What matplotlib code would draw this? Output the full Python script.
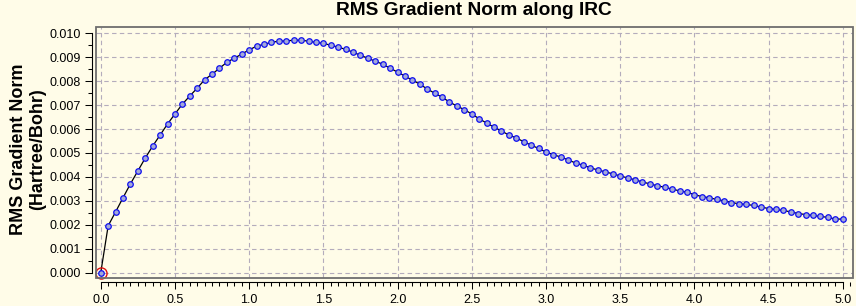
import matplotlib
matplotlib.use("Agg")
import matplotlib.pyplot as plt
from matplotlib.patches import Rectangle
from matplotlib.ticker import MultipleLocator, FormatStrFormatter

plt.rcParams['font.family'] = ['Liberation Sans', 'DejaVu Sans']

title = "RMS Gradient Norm along IRC"
ylabel = "RMS Gradient Norm\n(Hartree/Bohr)"

irc_coord = [0.00, 0.05, 0.10, 0.15, 0.20, 0.25, 0.30, 0.35, 0.40, 0.45,
             0.50, 0.55, 0.60, 0.65, 0.70, 0.75, 0.80, 0.85, 0.90, 0.95,
             1.00, 1.05, 1.10, 1.15, 1.20, 1.25, 1.30, 1.35, 1.40, 1.45,
             1.50, 1.55, 1.60, 1.65, 1.70, 1.75, 1.80, 1.85, 1.90, 1.95,
             2.00, 2.05, 2.10, 2.15, 2.20, 2.25, 2.30, 2.35, 2.40, 2.45,
             2.50, 2.55, 2.60, 2.65, 2.70, 2.75, 2.80, 2.85, 2.90, 2.95,
             3.00, 3.05, 3.10, 3.15, 3.20, 3.25, 3.30, 3.35, 3.40, 3.45,
             3.50, 3.55, 3.60, 3.65, 3.70, 3.75, 3.80, 3.85, 3.90, 3.95,
             4.00, 4.05, 4.10, 4.15, 4.20, 4.25, 4.30, 4.35, 4.40, 4.45,
             4.50, 4.55, 4.60, 4.65, 4.70, 4.75, 4.80, 4.85, 4.90, 4.95,
             5.00]

rms_grad_milli = [0.00, 1.96, 2.54, 3.13, 3.71, 4.25, 4.79, 5.29, 5.75, 6.21,
                  6.63, 7.04, 7.38, 7.71, 8.06, 8.29, 8.54, 8.79, 8.96, 9.13,
                  9.31, 9.46, 9.54, 9.62, 9.67, 9.68, 9.71, 9.71, 9.67, 9.62,
                  9.58, 9.50, 9.42, 9.33, 9.21, 9.08, 8.96, 8.83, 8.71, 8.54,
                  8.38, 8.21, 8.04, 7.88, 7.67, 7.50, 7.33, 7.13, 6.96, 6.81,
                  6.63, 6.43, 6.25, 6.08, 5.92, 5.75, 5.63, 5.47, 5.33, 5.19,
                  5.04, 4.93, 4.83, 4.71, 4.58, 4.49, 4.38, 4.29, 4.21, 4.13,
                  4.04, 3.96, 3.88, 3.79, 3.71, 3.63, 3.57, 3.49, 3.42, 3.36,
                  3.26, 3.18, 3.13, 3.06, 3.00, 2.93, 2.88, 2.85, 2.81, 2.74,
                  2.68, 2.64, 2.60, 2.54, 2.47, 2.43, 2.39, 2.35, 2.31, 2.24,
                  2.24]
rms_grad = [v * 0.001 for v in rms_grad_milli]

highlight_index = 0  # transition-state point circled in red

bg = '#FFFCE8'
fig = plt.figure(figsize=(8.56, 3.06), dpi=100, facecolor=bg)
ax = fig.add_axes([95.7 / 856, 27.7 / 306, 757.0 / 856, 251.0 / 306])
ax.set_facecolor(bg)

ax.plot(irc_coord, rms_grad, color='black', lw=0.9, zorder=3,
        marker='o', ms=4.0, mfc='#A3A9D8', mec='#1010F0', mew=0.9)
ax.plot([irc_coord[highlight_index]], [rms_grad[highlight_index]],
        marker='o', ms=8.0, mfc='none', mec='#E01010', mew=1.0, zorder=4,
        clip_on=False)

ax.set_xlim(-0.034, 5.067)
ax.set_ylim(-0.000234, 0.01025)

ax.xaxis.set_major_locator(MultipleLocator(0.5))
ax.xaxis.set_minor_locator(MultipleLocator(0.05))
ax.yaxis.set_major_locator(MultipleLocator(0.001))
ax.yaxis.set_minor_locator(MultipleLocator(0.0005))
ax.xaxis.set_major_formatter(FormatStrFormatter('%.1f'))
ax.yaxis.set_major_formatter(FormatStrFormatter('%.3f'))

ax.grid(True, which='major', color='#B4ACBC', ls=(0, (4, 3)), lw=0.8)
ax.set_axisbelow(True)

for s in ('top', 'right'):
    ax.spines[s].set_visible(False)
ax.spines['left'].set_position(('outward', 2.5))
ax.spines['bottom'].set_position(('outward', 2.5))
ax.spines['left'].set_bounds(0, 0.010)
ax.spines['bottom'].set_bounds(0, 5.0)
ax.spines['left'].set_linewidth(0.8)
ax.spines['bottom'].set_linewidth(0.8)

ax.tick_params(which='major', length=5, width=0.75, labelsize=9, pad=3.5, colors='black')
ax.tick_params(which='minor', length=3, width=0.75)

ax.add_patch(Rectangle((0, 0), 1, 1, transform=ax.transAxes, fill=False,
                       ec='#6E6E6E', lw=1.3, clip_on=False, zorder=5))

ax.set_title(title, fontsize=13.8, fontweight='bold', pad=8.9)
ax.set_ylabel(ylabel, fontsize=13, fontweight='bold', linespacing=1.15)
ax.yaxis.set_label_coords(-0.066, 0.515)

fig.savefig('out.png', dpi=100, facecolor=bg)
